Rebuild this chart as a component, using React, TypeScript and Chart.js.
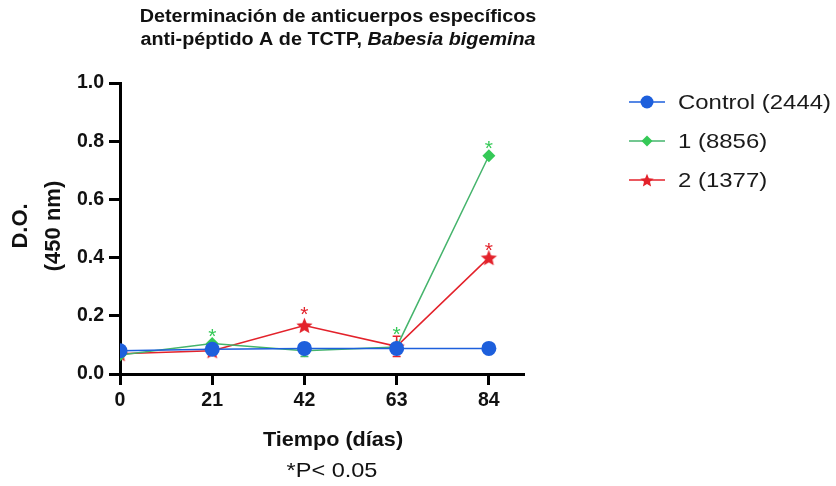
import { useEffect, useRef } from "react";
import { Chart, registerables } from "chart.js";

Chart.register(...registerables);

const days = [0, 21, 42, 63, 84];
const controlValues = [0.08, 0.085, 0.088, 0.088, 0.088];
const group1Values = [0.065, 0.105, 0.08, 0.093, 0.75];
const group2Values = [0.07, 0.08, 0.167, 0.095, 0.4];
const group1Errors = [0, 0, 0.02, 0, 0];
const group2Errors = [0, 0, 0, 0.035, 0];
const yTicks = [0, 0.2, 0.4, 0.6, 0.8, 1.0];
const legendLabels = ["Control (2444)", "1 (8856)", "2 (1377)"];
const sig1Days = [21, 63, 84];
const sig1Y = [0.148, 0.155, 0.794];
const sig2Days = [42, 84];
const sig2Y = [0.225, 0.443];
const titleLine1 = "Determinación de anticuerpos específicos";
const titleLine2a = "anti-péptido A de TCTP, ";
const titleLine2b = "Babesia bigemina";
const yTitle = ["D.O.", "(450 nm)"];
const xTitle = "Tiempo (días)";
const note = "*P< 0.05";

const FONT = 'Arial, "Liberation Sans", sans-serif';
const BLUE = "#1d5fdc";
const GREEN_LINE = "#45b46c";
const GREEN = "#35c957";
const RED = "#e3222b";

function makeStar(r: number, color: string) {
  const c = document.createElement("canvas");
  const s = Math.ceil(r * 2 + 2);
  c.width = s;
  c.height = s;
  const ctx = c.getContext("2d")!;
  const cx = s / 2;
  const cy = s / 2 + 0.8;
  ctx.beginPath();
  for (let i = 0; i < 10; i++) {
    const rad = i % 2 === 0 ? r : r * 0.45;
    const a = -Math.PI / 2 + (i * Math.PI) / 5;
    const x = cx + rad * Math.cos(a);
    const y = cy + rad * Math.sin(a);
    if (i === 0) ctx.moveTo(x, y);
    else ctx.lineTo(x, y);
  }
  ctx.closePath();
  ctx.fillStyle = color;
  ctx.fill();
  return c;
}

// draws text horizontally stretched by hs, anchored at x according to align
function drawStretched(
  ctx: CanvasRenderingContext2D,
  text: string,
  x: number,
  y: number,
  font: string,
  hs: number,
  align: "left" | "center"
) {
  ctx.save();
  ctx.font = font;
  ctx.textAlign = "left";
  ctx.textBaseline = "middle";
  const w = ctx.measureText(text).width * hs;
  const left = align === "center" ? x - w / 2 : x;
  ctx.translate(left, y);
  ctx.scale(hs, 1);
  ctx.fillText(text, 0, 0);
  ctx.restore();
}

export default function App() {
  const ref = useRef<HTMLCanvasElement | null>(null);

  useEffect(() => {
    const canvas = ref.current;
    if (!canvas) return;
    const star = makeStar(8.5, RED);
    const starSmall = makeStar(7, RED);

    const errorPlugin = {
      id: "errbars",
      beforeDatasetsDraw(chart: any) {
        const ctx = chart.ctx;
        const ys = chart.scales.y;
        const xs = chart.scales.x;
        const sets = [
          { vals: group1Values, errs: group1Errors, color: GREEN_LINE },
          { vals: group2Values, errs: group2Errors, color: RED },
        ];
        ctx.save();
        ctx.lineWidth = 1.5;
        for (const s of sets) {
          ctx.strokeStyle = s.color;
          s.errs.forEach((e, i) => {
            if (!e) return;
            const x = xs.getPixelForValue(days[i]);
            const y1 = ys.getPixelForValue(s.vals[i] + e);
            const y2 = ys.getPixelForValue(s.vals[i] - e);
            ctx.beginPath();
            ctx.moveTo(x, y1);
            ctx.lineTo(x, y2);
            ctx.moveTo(x - 4, y1);
            ctx.lineTo(x + 4, y1);
            ctx.moveTo(x - 4, y2);
            ctx.lineTo(x + 4, y2);
            ctx.stroke();
          });
        }
        ctx.restore();
      },
    };

    const textPlugin = {
      id: "texts",
      afterDraw(chart: any) {
        const ctx = chart.ctx as CanvasRenderingContext2D;
        const xs = chart.scales.x;
        const ys = chart.scales.y;
        ctx.save();
        // significance asterisks
        ctx.font = `21px ${FONT}`;
        ctx.textAlign = "center";
        ctx.textBaseline = "alphabetic";
        ctx.fillStyle = GREEN;
        sig1Days.forEach((d, i) => {
          ctx.fillText("*", xs.getPixelForValue(d), ys.getPixelForValue(sig1Y[i]) + 12);
        });
        ctx.fillStyle = RED;
        sig2Days.forEach((d, i) => {
          ctx.fillText("*", xs.getPixelForValue(d), ys.getPixelForValue(sig2Y[i]) + 12);
        });

        // title
        ctx.fillStyle = "#111";
        const tcx = 338;
        const th = 1.13;
        const fB = `bold 17.5px ${FONT}`;
        const fBI = `italic bold 17.5px ${FONT}`;
        drawStretched(ctx, titleLine1, tcx, 17, fB, th, "center");
        ctx.font = fB;
        const wA = ctx.measureText(titleLine2a).width * th;
        ctx.font = fBI;
        const wB = ctx.measureText(titleLine2b).width * th;
        const startX = tcx - (wA + wB) / 2;
        drawStretched(ctx, titleLine2a, startX, 40, fB, th, "left");
        drawStretched(ctx, titleLine2b, startX + wA, 40, fBI, th, "left");

        // y title
        ctx.save();
        ctx.translate(38, 226);
        ctx.rotate(-Math.PI / 2);
        ctx.textAlign = "center";
        ctx.textBaseline = "middle";
        ctx.font = `bold 22px ${FONT}`;
        ctx.fillText(yTitle[0], 0, -17);
        ctx.fillText(yTitle[1], 0, 16);
        ctx.restore();

        // x title and note
        drawStretched(ctx, xTitle, 333, 440, `bold 21px ${FONT}`, 1.03, "center");
        drawStretched(ctx, note, 332, 471, `21px ${FONT}`, 1.12, "center");

        // legend
        const items = [
          { label: legendLabels[0], line: BLUE, kind: "circle" },
          { label: legendLabels[1], line: GREEN_LINE, kind: "diamond" },
          { label: legendLabels[2], line: RED, kind: "star" },
        ];
        items.forEach((it, i) => {
          const y = 102 + i * 39;
          ctx.strokeStyle = it.line;
          ctx.lineWidth = 1.5;
          ctx.beginPath();
          ctx.moveTo(629, y);
          ctx.lineTo(665, y);
          ctx.stroke();
          const mx = 647;
          if (it.kind === "circle") {
            ctx.fillStyle = BLUE;
            ctx.beginPath();
            ctx.arc(mx, y, 6.5, 0, Math.PI * 2);
            ctx.fill();
          } else if (it.kind === "diamond") {
            ctx.fillStyle = GREEN;
            ctx.beginPath();
            ctx.moveTo(mx, y - 5.5);
            ctx.lineTo(mx + 5.5, y);
            ctx.lineTo(mx, y + 5.5);
            ctx.lineTo(mx - 5.5, y);
            ctx.closePath();
            ctx.fill();
          } else {
            ctx.drawImage(starSmall, mx - starSmall.width / 2, y - starSmall.height / 2);
          }
          ctx.fillStyle = "#1a1a1a";
          drawStretched(ctx, it.label, 678, y + 1, `21px ${FONT}`, 1.14, "left");
        });
        ctx.restore();
      },
    };

    const tickFont = { family: FONT, size: 19.5, weight: "bold" as const };

    const chart = new Chart(canvas, {
      type: "line",
      data: {
        datasets: [
          {
            label: legendLabels[0],
            data: days.map((d, i) => ({ x: d, y: controlValues[i] })),
            borderColor: BLUE,
            backgroundColor: BLUE,
            borderWidth: 1.5,
            pointStyle: "circle",
            pointRadius: 7.5,
            pointBorderWidth: 0,
          },
          {
            label: legendLabels[1],
            data: days.map((d, i) => ({ x: d, y: group1Values[i] })),
            borderColor: GREEN_LINE,
            backgroundColor: GREEN,
            pointBackgroundColor: GREEN,
            borderWidth: 1.5,
            pointStyle: "rectRot",
            pointRadius: 6.5,
            pointBorderWidth: 0,
          },
          {
            label: legendLabels[2],
            data: days.map((d, i) => ({ x: d, y: group2Values[i] })),
            borderColor: RED,
            backgroundColor: RED,
            borderWidth: 1.5,
            pointStyle: star as any,
            pointRadius: 8,
            pointBorderWidth: 0,
          },
        ],
      },
      options: {
        responsive: false,
        animation: false,
        devicePixelRatio: 1,
        layout: { padding: { left: 0, top: 83, right: 312, bottom: 0 } },
        plugins: {
          legend: { display: false },
          title: { display: false },
          tooltip: { enabled: false },
        },
        scales: {
          x: {
            type: "linear",
            min: 0,
            max: 92,
            afterBuildTicks: (s: any) => {
              s.ticks = days.map((v) => ({ value: v }));
            },
            afterFit: (s: any) => {
              s.height = 112;
            },
            border: { color: "#000", width: 3 },
            grid: {
              drawOnChartArea: false,
              tickLength: 11,
              tickWidth: 3,
              tickColor: "#000",
              color: "#000",
            },
            ticks: {
              color: "#111",
              font: tickFont,
              padding: 4,
              maxRotation: 0,
              autoSkip: false,
            },
          },
          y: {
            type: "linear",
            min: 0,
            max: 1,
            afterBuildTicks: (s: any) => {
              s.ticks = yTicks.map((v) => ({ value: v }));
            },
            afterFit: (s: any) => {
              s.width = 120;
            },
            border: { color: "#000", width: 3 },
            grid: {
              drawOnChartArea: false,
              tickLength: 11,
              tickWidth: 3,
              tickColor: "#000",
              color: "#000",
            },
            ticks: {
              color: "#111",
              font: tickFont,
              padding: 5,
              callback: (v: any) => Number(v).toFixed(1),
            },
          },
        },
      },
      plugins: [errorPlugin, textPlugin],
    });
    return () => chart.destroy();
  }, []);

  return (
    <div style={{ position: "fixed", left: 0, top: 0, width: 836, height: 486, background: "#fff" }}>
      <canvas ref={ref} width={836} height={486} style={{ display: "block" }} />
    </div>
  );
}
